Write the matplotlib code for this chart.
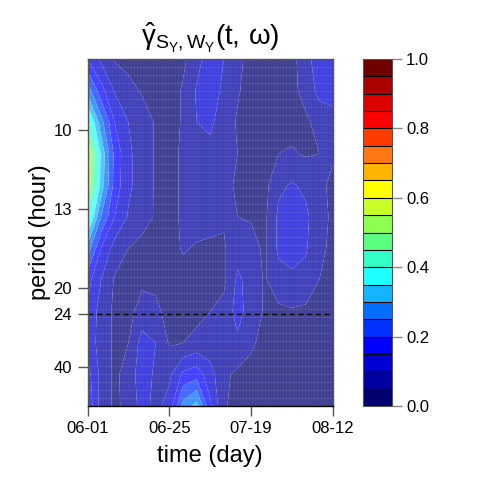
import matplotlib
matplotlib.use("Agg")
import matplotlib.pyplot as plt
import numpy as np
from matplotlib.colors import ListedColormap, BoundaryNorm
from matplotlib.cm import ScalarMappable

plt.rcParams['font.family'] = ['Liberation Sans', 'DejaVu Sans']
plt.rcParams['mathtext.fontset'] = 'custom'
plt.rcParams['mathtext.rm'] = 'Liberation Sans'
plt.rcParams['mathtext.it'] = 'Liberation Sans'
plt.rcParams['mathtext.bf'] = 'Liberation Sans:bold'

# ---- data ----
days = [0, 4, 8, 12, 16, 20, 24, 28, 32, 36, 40, 44, 48, 52, 56, 60, 64, 68, 72]
freqs = [0.1225, 0.1125, 0.1025, 0.0925, 0.0825, 0.0725, 0.0625, 0.0525,
         0.0425, 0.0325, 0.0225, 0.0125]  # cycles per hour
coherence = [
    [0.15, 0.09, 0.045, 0.035, 0.03, 0.03, 0.03, 0.04, 0.08, 0.13, 0.10, 0.065, 0.03, 0.03, 0.03, 0.035, 0.08, 0.13, 0.14],
    [0.28, 0.17, 0.095, 0.065, 0.045, 0.035, 0.03, 0.055, 0.105, 0.125, 0.09, 0.055, 0.03, 0.03, 0.03, 0.035, 0.07, 0.115, 0.12],
    [0.43, 0.27, 0.15, 0.10, 0.075, 0.045, 0.03, 0.055, 0.10, 0.11, 0.075, 0.045, 0.03, 0.03, 0.03, 0.035, 0.04, 0.07, 0.08],
    [0.57, 0.34, 0.185, 0.11, 0.075, 0.045, 0.03, 0.06, 0.08, 0.085, 0.065, 0.05, 0.035, 0.03, 0.05, 0.055, 0.045, 0.05, 0.055],
    [0.55, 0.33, 0.18, 0.11, 0.075, 0.045, 0.03, 0.06, 0.075, 0.075, 0.06, 0.045, 0.035, 0.035, 0.09, 0.105, 0.09, 0.06, 0.04],
    [0.43, 0.25, 0.15, 0.095, 0.07, 0.045, 0.03, 0.06, 0.07, 0.07, 0.055, 0.05, 0.045, 0.04, 0.11, 0.125, 0.11, 0.07, 0.04],
    [0.28, 0.15, 0.08, 0.05, 0.035, 0.03, 0.03, 0.055, 0.045, 0.04, 0.045, 0.08, 0.07, 0.04, 0.11, 0.12, 0.105, 0.065, 0.035],
    [0.17, 0.10, 0.045, 0.035, 0.04, 0.04, 0.03, 0.03, 0.03, 0.035, 0.04, 0.11, 0.08, 0.045, 0.08, 0.09, 0.085, 0.05, 0.03],
    [0.14, 0.08, 0.04, 0.035, 0.07, 0.06, 0.035, 0.03, 0.035, 0.05, 0.065, 0.12, 0.075, 0.045, 0.04, 0.045, 0.04, 0.035, 0.03],
    [0.13, 0.08, 0.04, 0.05, 0.12, 0.10, 0.045, 0.05, 0.065, 0.07, 0.065, 0.09, 0.055, 0.04, 0.035, 0.03, 0.03, 0.03, 0.03],
    [0.17, 0.085, 0.04, 0.07, 0.13, 0.09, 0.09, 0.16, 0.18, 0.12, 0.06, 0.04, 0.04, 0.035, 0.03, 0.03, 0.03, 0.03, 0.03],
    [0.19, 0.08, 0.04, 0.065, 0.12, 0.085, 0.12, 0.27, 0.32, 0.16, 0.055, 0.035, 0.03, 0.03, 0.03, 0.03, 0.03, 0.03, 0.03],
]
levels = [i * 0.05 for i in range(21)]
palette = ['#00006E', '#0000A0', '#0000D2', '#0000FF', '#0032FF', '#006EFF',
           '#14B4FF', '#1EFFFF', '#32FFC8', '#5AFF82', '#8CFF50', '#C8FF28',
           '#FFFF00', '#FFB400', '#FF7814', '#FF3C00', '#FF0000', '#DC0000',
           '#AA0000', '#6E0000']
time_ticks = [0, 24, 48, 72]
time_labels = ['06-01', '06-25', '07-19', '08-12']
period_ticks = [10, 40 / 3, 20, 24, 40]
period_labels = ['10', '13', '20', '24', '40']
ref_period = 24

# ---- figure ----
fig = plt.figure(figsize=(4.8, 4.8), dpi=100)
ax = fig.add_axes([87.5 / 480, 74 / 480, 245.5 / 480, 347 / 480])
cax = fig.add_axes([363 / 480, 74 / 480, 29 / 480, 347 / 480])

cmap = ListedColormap(palette)
norm = BoundaryNorm(levels, cmap.N)

X, Y = np.meshgrid(days, freqs)
Z = np.array(coherence)
ax.contourf(X, Y, Z, levels=levels, cmap=cmap, norm=norm, antialiased=True)

# translucent veil over the image (as in the reference), with faint stripes
ax.axhspan(freqs[-1], freqs[0], color='white', alpha=0.26, lw=0, zorder=2)
ax.hlines(np.linspace(0, 1, 44), 0, 1, transform=ax.transAxes,
          colors='white', alpha=0.10, lw=0.8, zorder=2)
ax.vlines(np.linspace(0, 1, 80), 0, 1, transform=ax.transAxes,
          colors='white', alpha=0.04, lw=0.8, zorder=2)

ax.axhline(1 / ref_period, color='black', lw=0.9, ls=(0, (4, 3)), zorder=3)

ax.set_xlim(days[0], days[-1])
ax.set_ylim(freqs[-1], freqs[0])
ax.set_xticks(time_ticks)
ax.set_xticklabels(time_labels)
ax.set_yticks([1 / p for p in period_ticks])
ax.set_yticklabels(period_labels)
ax.tick_params(direction='out', length=7, width=1, color='#555555', labelsize=12, pad=4)
for s in ax.spines.values():
    s.set_color('#555555')
    s.set_linewidth(1)
    s.set_zorder(4)
ax.spines['bottom'].set_color('black')
ax.set_xlabel('time (day)', fontsize=17, labelpad=6)
ax.set_ylabel('period (hour)', fontsize=17, labelpad=2)
ax.set_title(r'$\hat{\gamma}_{S_Y,W_Y}(t,\,\omega)$', fontsize=20, pad=10)

sm = ScalarMappable(norm=norm, cmap=cmap)
cb = fig.colorbar(sm, cax=cax, drawedges=True, ticks=[0, 0.2, 0.4, 0.6, 0.8, 1.0])
cb.minorticks_off()
cb.ax.set_yticklabels(['0.0', '0.2', '0.4', '0.6', '0.8', '1.0'])
cb.outline.set_color('#555555')
cb.dividers.set_color('black')
cb.dividers.set_linewidth(0.8)
cax.tick_params(direction='out', length=7, width=1, color='#888888', labelsize=12, pad=3)
cax.tick_params(which='minor', length=0)

fig.savefig('out.png', dpi=100)
